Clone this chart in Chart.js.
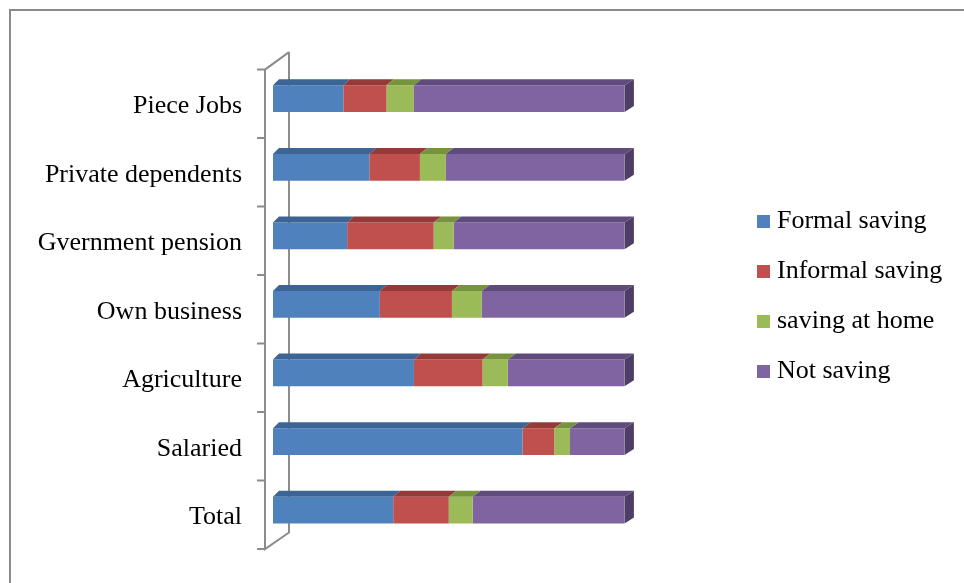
<!DOCTYPE html>
<html>
<head>
<meta charset="utf-8">
<title>Saving behaviour by source of income</title>
<script src="https://cdn.jsdelivr.net/npm/chart.js@4.4.0/dist/chart.umd.min.js"></script>
<style>
    html, body { margin: 0; padding: 0; background: #fff; }
    #box { width: 964px; height: 583px; }
</style>
</head>
<body>
<div id="box"><canvas id="poupanca"></canvas></div>
<script>
const categorias = ['Piece Jobs', 'Private dependents', 'Gvernment pension', 'Own business', 'Agriculture', 'Salaried', 'Total'];
const series = ['Formal saving', 'Informal saving', 'saving at home', 'Not saving'];
// percentages per income source, each row sums to 100
const formalSaving = [20.0, 27.4, 21.1, 30.4, 40.1, 71.0, 34.2];
const informalSaving = [12.3, 14.4, 24.6, 20.5, 19.5, 9.0, 15.8];
const savingAtHome = [7.8, 7.4, 5.7, 8.5, 7.2, 4.5, 6.8];
const notSaving = [59.9, 50.8, 48.6, 40.6, 33.2, 15.5, 43.2];

const coresFrente = ['#4f81bd', '#c0504d', '#9bbb59', '#8064a2'];
const coresTopo = ['#3c6494', '#953a38', '#77933c', '#604b7d'];
const corLado = '#4e3d66';
const fonte = 'Liberation Serif';

const poupanca = document.getElementById('poupanca').getContext('2d');

// moldura cinza em volta do grafico
const moldura = {
    id: 'moldura',
    beforeDraw(chart) {
        const ctx = chart.ctx;
        ctx.save();
        ctx.strokeStyle = '#8a8a8a';
        ctx.lineWidth = 2;
        ctx.strokeRect(10, 10, 1200, 1200);
        ctx.restore();
    }
};

// paredes do eixo 3D (linha da frente, linha do fundo e marcas)
const paredes = {
    id: 'paredes',
    beforeDatasetsDraw(chart) {
        const {ctx, chartArea} = chart;
        const frenteX = chartArea.left - 8;
        const fundoX = chartArea.left + 16;
        const topo = chartArea.top + 5.2;
        const base = chartArea.bottom + 4.6;
        const passo = (base - topo) / categorias.length;
        ctx.save();
        ctx.strokeStyle = '#8c8c8c';
        ctx.lineWidth = 2;
        ctx.beginPath();
        ctx.moveTo(fundoX, topo - 17.5);
        ctx.lineTo(fundoX, base - 16.5);
        ctx.lineTo(frenteX, base);
        ctx.lineTo(frenteX, topo);
        ctx.lineTo(fundoX, topo - 17.5);
        for (let i = 0; i <= categorias.length; i++) {
            const yy = topo + i * passo;
            ctx.moveTo(frenteX - 8, yy);
            ctx.lineTo(frenteX, yy);
        }
        ctx.stroke();
        ctx.restore();
    }
};

// faces de cima e lateral das barras
const faces3d = {
    id: 'faces3d',
    afterDatasetsDraw(chart) {
        const {ctx, chartArea} = chart;
        const largura = chartArea.right - chartArea.left;
        const dy = 6;
        const desloc = (x) => 6 + 3.4 * (x - chartArea.left) / largura;
        ctx.save();
        chart.data.datasets.forEach((ds, d) => {
            const meta = chart.getDatasetMeta(d);
            meta.data.forEach((bar) => {
                const esq = Math.min(bar.x, bar.base);
                const dir = Math.max(bar.x, bar.base);
                const cima = bar.y - bar.height / 2;
                const baixo = bar.y + bar.height / 2;
                ctx.fillStyle = coresTopo[d];
                ctx.beginPath();
                ctx.moveTo(esq, cima);
                ctx.lineTo(esq + desloc(esq), cima - dy);
                ctx.lineTo(dir + desloc(dir), cima - dy);
                ctx.lineTo(dir, cima);
                ctx.closePath();
                ctx.fill();
                if (d === chart.data.datasets.length - 1) {
                    ctx.fillStyle = corLado;
                    ctx.beginPath();
                    ctx.moveTo(dir, cima);
                    ctx.lineTo(dir + desloc(dir), cima - dy);
                    ctx.lineTo(dir + desloc(dir), baixo - dy);
                    ctx.lineTo(dir, baixo);
                    ctx.closePath();
                    ctx.fill();
                }
            });
        });
        ctx.restore();
    }
};

// legenda a direita, desenhada a mao
const legenda = {
    id: 'legenda',
    afterDraw(chart) {
        const ctx = chart.ctx;
        ctx.save();
        ctx.font = '26px "' + fonte + '"';
        ctx.textBaseline = 'middle';
        ctx.textAlign = 'left';
        chart.data.datasets.forEach((ds, i) => {
            const yy = 221.5 + i * 50;
            ctx.fillStyle = ds.backgroundColor;
            ctx.fillRect(757, yy - 6.5, 13, 13);
            ctx.fillStyle = '#000';
            ctx.fillText(ds.label, 777, yy);
        });
        ctx.restore();
    }
};

const valores = [formalSaving, informalSaving, savingAtHome, notSaving];

const graficoPoupanca = new Chart(poupanca, {
    type: 'bar',
    data: {
        labels: categorias,
        datasets: series.map((nome, i) => ({
            label: nome,
            data: valores[i],
            backgroundColor: coresFrente[i],
            borderWidth: 0,
            barPercentage: 0.39,
            categoryPercentage: 1
        }))
    },
    options: {
        indexAxis: 'y',
        responsive: true,
        maintainAspectRatio: false,
        animation: false,
        layout: {
            padding: {
                left: 0,
                right: 339.5,
                top: 64.4,
                bottom: 30
            }
        },
        scales: {
            x: {
                stacked: true,
                min: 0,
                max: 100,
                display: false
            },
            y: {
                stacked: true,
                grid: {
                    display: false
                },
                border: {
                    display: false
                },
                afterFit: function (scale) {
                    scale.width = 273;
                },
                ticks: {
                    color: '#000',
                    padding: 23,
                    labelOffset: 7.5,
                    font: {
                        size: 26,
                        family: fonte
                    }
                }
            }
        },
        plugins: {
            legend: {
                display: false
            },
            tooltip: {
                enabled: false
            }
        }
    },
    plugins: [moldura, paredes, faces3d, legenda]
});
</script>
</body>
</html>
